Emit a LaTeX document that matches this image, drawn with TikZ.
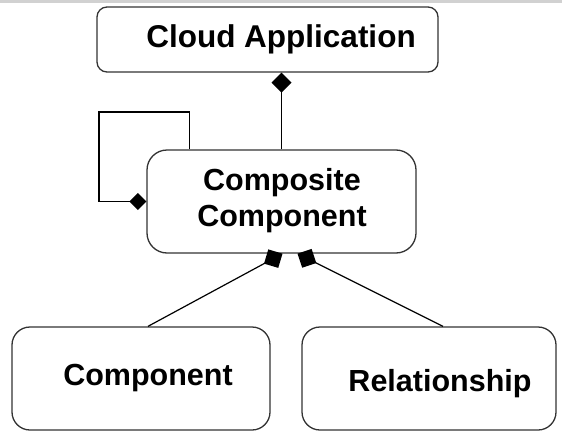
\documentclass[tikz,border=0pt]{standalone}
\usepackage{fontspec}
\setmainfont{Liberation Sans}
\usetikzlibrary{arrows.meta,calc}

\tikzset{
  box/.style={draw=black!80, line width=1.3pt, fill=white, inner sep=0pt},
  label text/.style={font=\bfseries\fontsize{30.5}{36}\selectfont, align=center, inner sep=0pt},
  compose/.style={draw=black, line width=1.2pt,
    -{Diamond[length=#1, width=#1, fill=black, line width=0pt]}},
  compose/.default=20pt
}

\begin{document}
\begin{tikzpicture}[x=1pt, y=-1pt]
  \useasboundingbox (0,0) rectangle (562,431);
  \fill[black!18] (0,0) rectangle (562,3.3);

  % boxes
  \node[box, rounded corners=10pt, minimum width=341pt, minimum height=65pt]
    (cloud) at (267.5,39.5) {};
  \node[box, rounded corners=20pt, minimum width=269pt, minimum height=103pt]
    (composite) at (281.5,201.5) {};
  \node[box, rounded corners=18pt, minimum width=258pt, minimum height=103pt]
    (component) at (141,378.5) {};
  \node[box, rounded corners=18pt, minimum width=254pt, minimum height=103pt]
    (relationship) at (429,378.5) {};

  % texts
  \node[label text, font=\bfseries\fontsize{31.5}{36}\selectfont] (cloudtext) at (281,39) {Cloud Application};
  \node[label text] (compositetext) at (282,201) {Composite\\Component};
  \node[label text] (componenttext) at (148,378) {Component};
  \node[label text] (relationshiptext) at (440,384) {Relationship};

  % composition links
  \draw[compose=20pt] (composite.north) -- (composite.north |- cloud.south);

  \coordinate (loopcorner) at (99,112);
  \draw[compose=17pt] ($(composite.north west)+(43,0)$) |- (loopcorner) |- (composite.west);

  \draw[compose=21pt] ($(component.north)+(7,0)$) -- ($(composite.south)+(1,0)$);
  \draw[compose=21pt] ($(relationship.north)+(14,0)$) -- ($(composite.south)+(16,0)$);
\end{tikzpicture}
\end{document}
